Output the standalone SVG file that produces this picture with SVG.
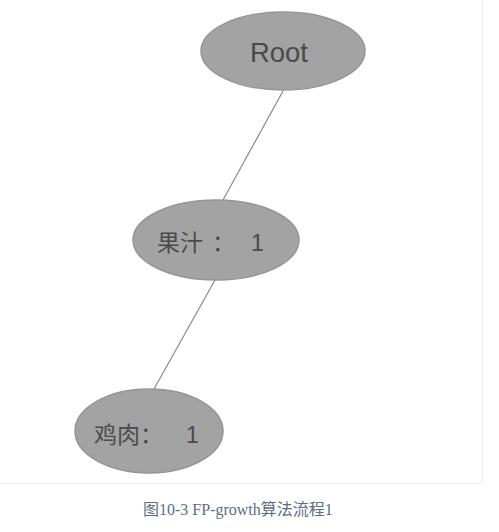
<svg xmlns="http://www.w3.org/2000/svg" width="499" height="532" viewBox="0 0 499 532">
<style>
.node ellipse{fill:#a3a3a3;stroke:#959595;stroke-width:1.5}
.lbl{font-family:"Liberation Sans","Noto Sans CJK SC",sans-serif;font-size:23px;fill:#4a4a4a}
.root{font-family:"Liberation Sans Narrow","Liberation Sans",sans-serif;font-size:28px;fill:#4a4a4a}
.edge{stroke:#8a8a8a;stroke-width:1.2;fill:none}
.cap{font-family:"Liberation Serif","Noto Sans CJK SC",serif;font-size:16px;fill:#5b6e86}
</style>
<rect width="499" height="532" fill="#fff"/>
<line x1="0" y1="483.5" x2="482" y2="483.5" stroke="#eeeeee"/>
<line x1="482.5" y1="0" x2="482.5" y2="483" stroke="#eeeeee"/>
<g id="connectors">
<line class="edge" x1="283" y1="91" x2="223" y2="200"/>
<line class="edge" x1="215" y1="280" x2="154" y2="389"/>
</g>
<g id="root" class="node">
<ellipse cx="283" cy="51" rx="82" ry="39"/>
<text class="root" x="250" y="62" textLength="58" lengthAdjust="spacingAndGlyphs">Root</text>
</g>
<g id="juice" class="node">
<ellipse cx="216" cy="240" rx="83" ry="40"/>
<text class="lbl" y="251"><tspan x="157">果汁</tspan><tspan x="212">：</tspan><tspan x="251">1</tspan></text>
</g>
<g id="chicken" class="node">
<ellipse cx="149" cy="431" rx="74" ry="42"/>
<text class="lbl" y="443"><tspan x="94">鸡肉</tspan><tspan x="140">：</tspan><tspan x="186">1</tspan></text>
</g>
<text class="cap" x="143" y="515">图10-3 FP-growth算法流程1</text>
</svg>
